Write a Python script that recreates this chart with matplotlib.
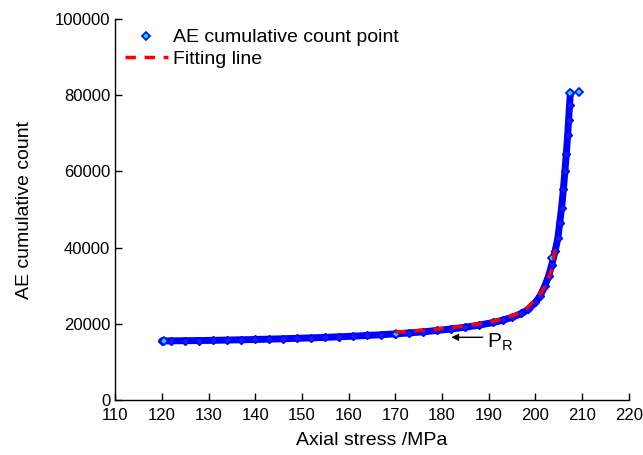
import matplotlib
matplotlib.use("Agg")
from matplotlib import pyplot as plt

plt.rcParams['font.family'] = ['Liberation Sans', 'DejaVu Sans']
plt.rcParams['mathtext.fontset'] = 'custom'
plt.rcParams['mathtext.rm'] = 'Liberation Sans'

# AE cumulative count points
stress = [120, 122, 125, 128, 131, 134, 137, 140, 143, 146, 149, 152, 155, 158,
          161, 164, 167, 170, 173, 176, 179, 182, 185, 188, 191, 193, 195, 197,
          198.5, 200, 201, 202, 202.8, 203.5, 204.2, 204.8, 205.2, 205.6,
          206.0, 206.3, 206.6, 206.9, 207.1, 207.3, 207.5]
count = [15500, 15520, 15560, 15600, 15650, 15720, 15800, 15880, 15970, 16070,
         16180, 16300, 16430, 16580, 16750, 16930, 17130, 17350, 17600, 17900,
         18250, 18650, 19100, 19650, 20350, 20950, 21700, 22700, 23800, 25600,
         27300, 29900, 32500, 35500, 39000, 42500, 46500, 50500, 55500, 60000,
         64500, 69500, 73500, 77500, 80700]
# points that stand out from the band
extra_x = [120.5, 170.2, 203.6, 207.5, 209.3]
extra_y = [15500, 17300, 37200, 80700, 80800]

# fitting line
fit_x = [170, 174, 178, 182, 186, 190, 193, 196, 198, 200, 201.5, 202.5, 203.5, 204.5]
fit_y = [17800, 18100, 18500, 19000, 19600, 20400, 21300, 22600, 24000, 26300,
         28700, 31000, 34500, 41500]

x_ticks = [110, 120, 130, 140, 150, 160, 170, 180, 190, 200, 210, 220]
y_ticks = [0, 20000, 40000, 60000, 80000, 100000]

fig = plt.figure(figsize=(6.43, 4.55), dpi=100)
ax = fig.add_axes([0.179, 0.121, 0.799, 0.837])

ax.plot(stress, count, color='blue', lw=5, solid_capstyle='round', zorder=2,
        marker='D', ms=4, mfc='#1a1aff', mec='blue', mew=1)
ax.plot(extra_x, extra_y, ls='none', marker='D', ms=4.5,
        mfc='#00e5ff', mec='blue', mew=1.2, zorder=3,
        label='AE cumulative count point')
ax.plot(fit_x, fit_y, color='red', ls=(0, (3, 2.5)), lw=2.5, zorder=4,
        label='Fitting line')

ax.annotate('', xy=(181.4, 16450), xytext=(189.3, 16450),
            arrowprops=dict(arrowstyle='-|>', color='black', lw=1,
                            mutation_scale=10))
ax.text(189.6, 13650, r'$\mathregular{P_R}$', fontsize=15, ha='left',
        va='baseline')

ax.set_xlim(110, 220)
ax.set_ylim(0, 100000)
ax.set_xticks(x_ticks)
ax.set_yticks(y_ticks)
ax.tick_params(direction='in', length=5, width=1, labelsize=12)
ax.tick_params(axis='x', pad=6)
for s in ['top', 'right']:
    ax.spines[s].set_visible(False)
for s in ['left', 'bottom']:
    ax.spines[s].set_linewidth(1)

ax.set_xlabel('Axial stress /MPa', fontsize=14, labelpad=6)
ax.set_ylabel('AE cumulative count', fontsize=14, labelpad=16)

ax.legend(loc='upper left', bbox_to_anchor=(0.0, 1.0), frameon=False,
          fontsize=14, handlelength=2.2, handletextpad=0.3, labelspacing=0.2,
          borderaxespad=0.1)

fig.savefig('out.png', dpi=100)
